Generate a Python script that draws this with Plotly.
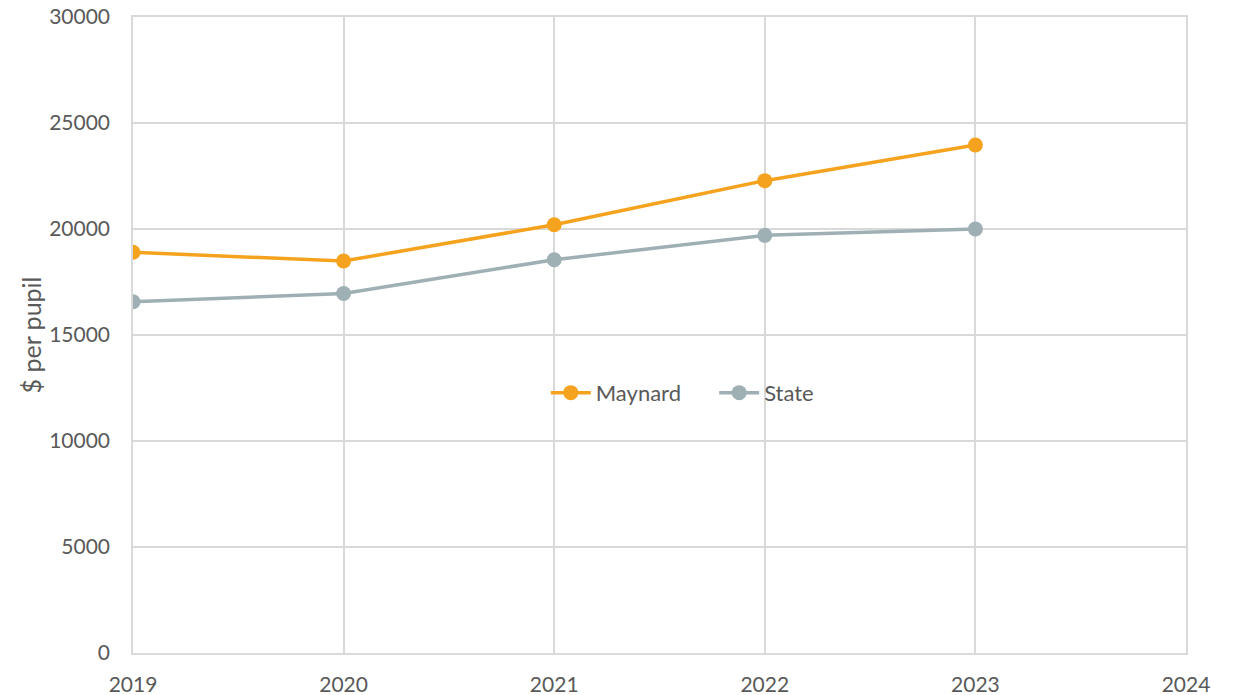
import plotly.graph_objects as go

years = [2019, 2020, 2021, 2022, 2023]
maynard = [18900, 18490, 20200, 22280, 23960]
state = [16570, 16960, 18550, 19700, 20000]

orange = "#F5A31E"
grey = "#9EB0B4"
txt = "#595959"
font_family = "Lato, 'Open Sans', sans-serif"

fig = go.Figure()
fig.add_trace(go.Scatter(x=years, y=maynard, name="Maynard     ", mode="lines+markers",
                         line=dict(color=orange, width=3.5),
                         marker=dict(color=orange, size=15)))
fig.add_trace(go.Scatter(x=years, y=state, name="State", mode="lines+markers",
                         line=dict(color=grey, width=3.5),
                         marker=dict(color=grey, size=15)))

fig.update_layout(
    width=1238, height=695,
    margin=dict(l=133, r=52, t=17, b=42, autoexpand=False),
    paper_bgcolor="white", plot_bgcolor="white",
    font=dict(family=font_family, size=21, color=txt),
    legend=dict(orientation="h", x=0.392, y=0.409, xanchor="left", yanchor="middle",
                bgcolor="rgba(0,0,0,0)", font=dict(size=22, color=txt),
                itemwidth=40),
    showlegend=True,
)
fig.update_xaxes(range=[2019, 2024], dtick=1, tick0=2019, showgrid=True,
                 gridcolor="#D9D9D9", gridwidth=1.5, zeroline=False,
                 showline=True, linecolor="#D9D9D9", linewidth=1.5, mirror=True,
                 ticks="", ticklabelstandoff=12, automargin=False, tickformat="d",
                 ticklabeloverflow="allow")
fig.update_yaxes(range=[0, 30000], dtick=5000, showgrid=True, gridcolor="#D9D9D9",
                 gridwidth=1.5, zeroline=False,
                 showline=True, linecolor="#D9D9D9", linewidth=1.5, mirror=True,
                 ticks="", tickformat="d", ticklabeloverflow="allow",
                 ticklabelstandoff=17, automargin=False,
                 title=dict(text="$ per pupil", standoff=0))

fig.write_html("out.html", config={"displayModeBar": False},
               post_script="document.body.style.margin='0px';")
